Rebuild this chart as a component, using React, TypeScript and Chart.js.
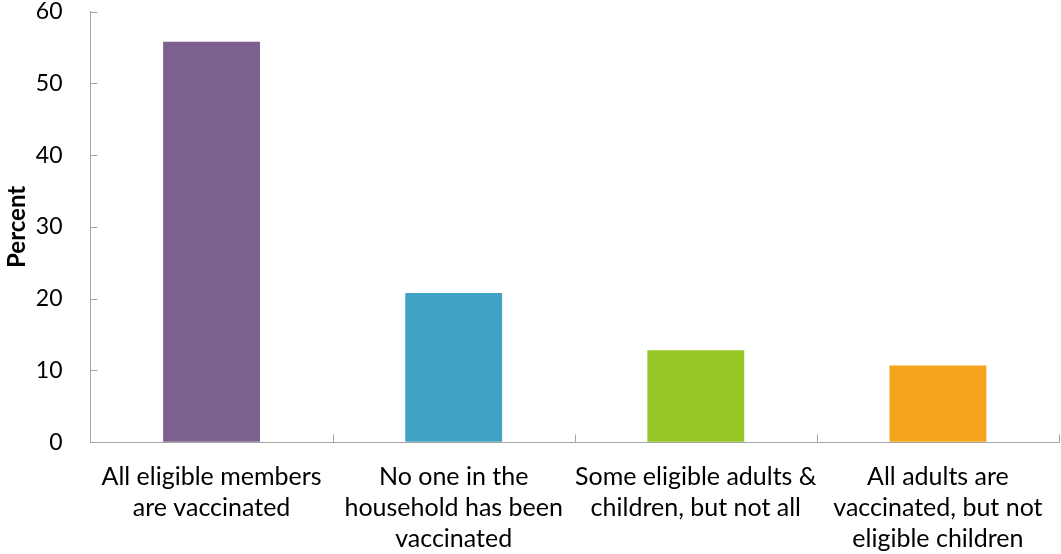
import React, { useEffect, useRef } from "react";
import { Chart, registerables } from "chart.js";

Chart.register(...registerables);

const categories: string[][] = [
  ["All eligible members", "are vaccinated"],
  ["No one in the", "household has been", "vaccinated"],
  ["Some eligible adults &", "children, but not all"],
  ["All adults are", "vaccinated, but not", "eligible children"],
];
const values: number[] = [55.8, 20.8, 12.8, 10.7];
const barColors: string[] = ["#7C6090", "#41A3C3", "#97C627", "#F4A41C"];
const yMin = 0;
const yMax = 60;
const yStep = 10;
const yTitle = "Percent";

const AXIS_COLOR = "#A6A6A6";

const innerTicks = {
  id: "innerTicks",
  afterDatasetsDraw(chart: any) {
    const ctx = chart.ctx;
    const x = chart.scales.x;
    const y = chart.scales.y;
    ctx.save();
    ctx.strokeStyle = AXIS_COLOR;
    ctx.lineWidth = 1;
    y.ticks.forEach((_t: any, i: number) => {
      const py = Math.round(y.getPixelForTick(i)) + 0.5;
      ctx.beginPath();
      ctx.moveTo(x.left, py);
      ctx.lineTo(x.left + 7, py);
      ctx.stroke();
    });
    const n = x.ticks.length;
    const half = (x.getPixelForTick(1) - x.getPixelForTick(0)) / 2;
    for (let i = 0; i <= n; i++) {
      const px = Math.round(i < n ? x.getPixelForTick(i) - half : x.getPixelForTick(n - 1) + half) + 0.5;
      ctx.beginPath();
      ctx.moveTo(px, y.bottom);
      ctx.lineTo(px, y.bottom - 8);
      ctx.stroke();
    }
    ctx.restore();
  },
};

export default function App() {
  const ref = useRef<HTMLCanvasElement | null>(null);
  useEffect(() => {
    if (!ref.current) return;
    const chart = new Chart(ref.current, {
      type: "bar",
      data: {
        labels: categories,
        datasets: [
          {
            data: values,
            backgroundColor: barColors,
            borderWidth: 0,
            categoryPercentage: 1,
            barPercentage: 0.4,
          },
        ],
      },
      options: {
        animation: false,
        responsive: false,
        maintainAspectRatio: false,
        layout: { padding: { left: 3, top: 0, right: 2, bottom: -1 } },
        plugins: {
          legend: { display: false },
          tooltip: { enabled: false },
        },
        scales: {
          x: {
            grid: {
              display: true,
              drawOnChartArea: false,
              drawTicks: true,
              tickLength: 19,
              tickColor: "rgba(0,0,0,0)",
            },
            border: { display: true, color: AXIS_COLOR, width: 1 },
            ticks: {
              color: "#000",
              padding: 0,
              maxRotation: 0,
              autoSkip: false,
              font: { family: "Lato", size: 25, lineHeight: 1.25 },
            },
          },
          y: {
            min: yMin,
            max: yMax,
            grid: {
              display: true,
              drawOnChartArea: false,
              drawTicks: true,
              tickLength: 28,
              tickColor: "rgba(0,0,0,0)",
            },
            border: { display: true, color: AXIS_COLOR, width: 1 },
            ticks: {
              stepSize: yStep,
              color: "#000",
              padding: 0,
              font: { family: "Lato", size: 23, lineHeight: 1.0 },
            },
            title: {
              display: true,
              text: yTitle,
              color: "#000",
              padding: { top: 0, bottom: 4 },
              font: { family: "Lato", size: 24, weight: "bold" },
            },
          },
        },
      },
      plugins: [innerTicks],
    });
    return () => chart.destroy();
  }, []);
  return (
    <div style={{ position: "fixed", left: 0, top: 0, width: 1061, height: 554, background: "#fff" }}>
      <canvas ref={ref} width={1061} height={554} style={{ width: 1061, height: 554 }} />
    </div>
  );
}
